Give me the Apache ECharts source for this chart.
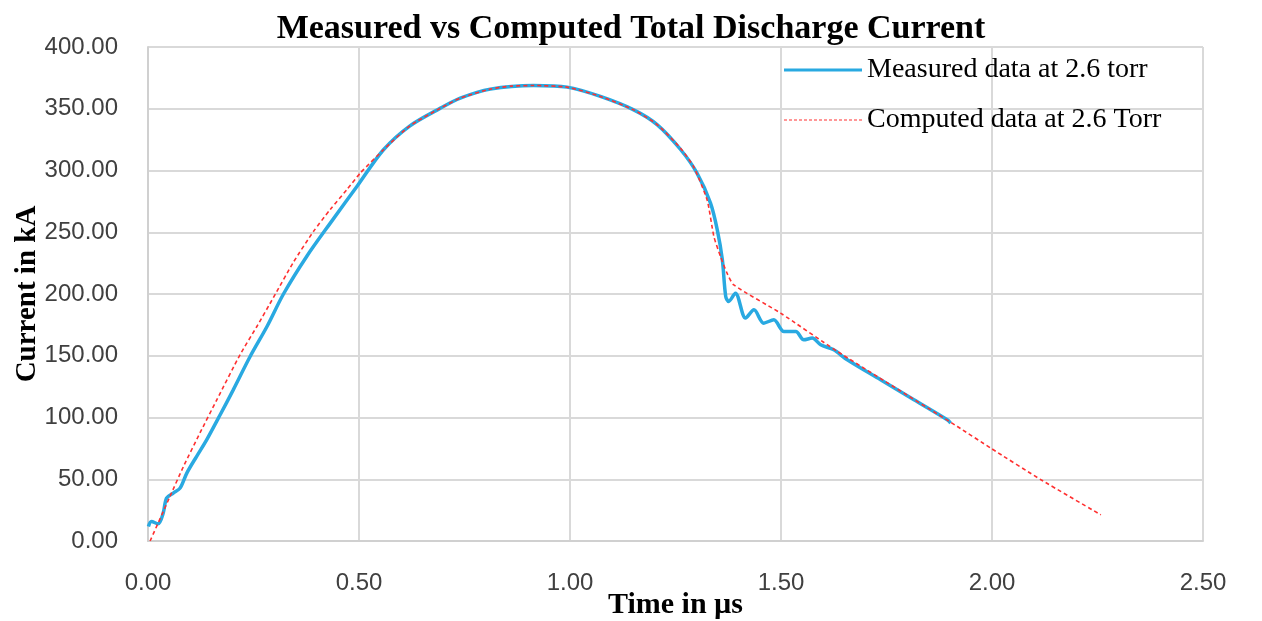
<!DOCTYPE html>
<html>
<head>
<meta charset="utf-8">
<script src="https://cdn.jsdelivr.net/npm/echarts@6/dist/echarts.min.js"></script>
<style>
html, body { margin: 0; padding: 0; background: #fff; }
#main { width: 1262px; height: 621px; }
</style>
</head>
<body>
<div id="main"></div>
<script>
// time in us, current in kA
var measuredTime = [0.001, 0.008, 0.024, 0.036, 0.044, 0.060, 0.076, 0.092, 0.115, 0.139, 0.171, 0.202,
    0.242, 0.282, 0.321, 0.376, 0.432, 0.495, 0.558, 0.62, 0.693, 0.740, 0.811, 0.914, 0.993, 1.072,
    1.151, 1.207, 1.262, 1.301, 1.333, 1.349, 1.361, 1.369, 1.376, 1.392, 1.416, 1.436, 1.459, 1.483,
    1.507, 1.535, 1.554, 1.574, 1.594, 1.625, 1.657, 1.736, 1.815, 1.894, 1.902];
var measuredCurrent = [11.7, 15.8, 13.9, 22.6, 34.7, 38.8, 42.8, 55, 68.4, 81.9, 102.2, 122.4,
    149.4, 173.7, 200, 230.4, 257.4, 287, 316.8, 336, 350.5, 358.6, 365.9, 368.8, 367.5, 360,
    349.1, 337, 317, 297.9, 273.6, 252, 227.7, 198, 193.9, 200.7, 180.5, 187.2, 176.4, 179.1,
    169.6, 169.6, 162.9, 164.3, 158.9, 154.8, 146.7, 130.5, 114.3, 98.1, 95.5];

var computedTime = [0.005, 0.052, 0.084, 0.123, 0.163, 0.218, 0.258, 0.297, 0.345, 0.392, 0.432, 0.471,
    0.503, 0.558, 0.62, 0.693, 0.740, 0.811, 0.860, 0.914, 0.993, 1.072, 1.151, 1.207, 1.262,
    1.293, 1.325, 1.341, 1.357, 1.372, 1.388, 1.499, 1.634, 1.918, 1.997, 2.116, 2.258];
var computedCurrent = [0, 36, 60.3, 87.4, 114.3, 150.8, 173.7, 197, 226, 250.6, 268.5, 284.4,
    297.9, 316.8, 336, 350.5, 358.6, 365.9, 368.3, 368.8, 367.5, 360, 349.1, 337, 318,
    303, 276, 246.5, 230, 217, 207.4, 184.5, 153.4, 92.7, 75.2, 49.6, 21.2];

function pairs(xs, ys) {
    var out = [];
    for (var i = 0; i < xs.length; i++) {
        out.push([xs[i], ys[i]]);
    }
    return out;
}

// short dashes for the legend sample of the computed line
function dashIcon() {
    var p = '';
    for (var x = 0; x < 78; x += 5) {
        p += 'M' + x + ',7 L' + (x + 3) + ',7 L' + (x + 3) + ',8 L' + x + ',8 Z ';
    }
    return 'path://' + p;
}

var serif = "'Liberation Serif', 'DejaVu Serif', serif";
var sans = "'Liberation Sans', Arial, sans-serif";

var option = {
    backgroundColor: '#fff',
    animation: false,
    title: {
        text: 'Measured vs Computed Total Discharge Current',
        left: 'center',
        top: 7,
        textStyle: { fontFamily: serif, fontWeight: 'bold', fontSize: 34, color: '#000' }
    },
    legend: {
        orient: 'vertical',
        left: 779,
        top: 51,
        itemWidth: 78,
        itemHeight: 14,
        itemGap: 22,
        textStyle: { fontFamily: serif, fontSize: 28, color: '#000' },
        data: [
            { name: 'Measured data at 2.6 torr', icon: 'path://M0,6 L78,6 L78,9 L0,9 Z', itemStyle: { color: '#29a9e1' } },
            { name: 'Computed data at 2.6 Torr', icon: dashIcon(), itemStyle: { color: '#ff3030' } }
        ]
    },
    grid: { left: 148, right: 59, top: 47, bottom: 80, outerBoundsMode: 'none', containLabel: false },
    xAxis: {
        type: 'value',
        min: 0,
        max: 2.5,
        interval: 0.5,
        name: 'Time in µs',
        nameLocation: 'middle',
        nameGap: 49,
        nameMoveOverlap: false,
        nameTextStyle: { fontFamily: serif, fontWeight: 'bold', fontSize: 30, color: '#000' },
        axisLine: { show: true, lineStyle: { color: '#d0d0d0', width: 2 } },
        axisTick: { show: false },
        axisLabel: {
            margin: 30,
            fontFamily: sans, fontSize: 24, color: '#404040',
            formatter: function (v) { return v.toFixed(2); }
        },
        splitLine: { show: true, lineStyle: { color: '#d9d9d9', width: 2 } }
    },
    yAxis: {
        type: 'value',
        min: 0,
        max: 400,
        interval: 50,
        name: 'Current in kA',
        nameLocation: 'middle',
        nameGap: 106,
        nameMoveOverlap: false,
        nameRotate: 90,
        nameTextStyle: { fontFamily: serif, fontWeight: 'bold', fontSize: 29, color: '#000' },
        axisLine: { show: true, lineStyle: { color: '#d0d0d0', width: 2 } },
        axisTick: { show: false },
        axisLabel: {
            margin: 30,
            fontFamily: sans, fontSize: 24, color: '#404040',
            formatter: function (v) { return v.toFixed(2); }
        },
        splitLine: { show: true, lineStyle: { color: '#d9d9d9', width: 2 } }
    },
    series: [
        {
            name: 'Measured data at 2.6 torr',
            type: 'line',
            data: pairs(measuredTime, measuredCurrent),
            smooth: 0.3,
            showSymbol: false,
            lineStyle: { color: '#29a9e1', width: 3.5 },
            itemStyle: { color: '#29a9e1' },
            z: 2
        },
        {
            name: 'Computed data at 2.6 Torr',
            type: 'line',
            data: pairs(computedTime, computedCurrent),
            smooth: 0.2,
            showSymbol: false,
            lineStyle: { color: '#ff3030', width: 1.6, type: [4, 3] },
            itemStyle: { color: '#ff3030' },
            z: 3
        }
    ]
};

var myChart = echarts.init(document.getElementById('main'));
myChart.setOption(option);
</script>
</body>
</html>
